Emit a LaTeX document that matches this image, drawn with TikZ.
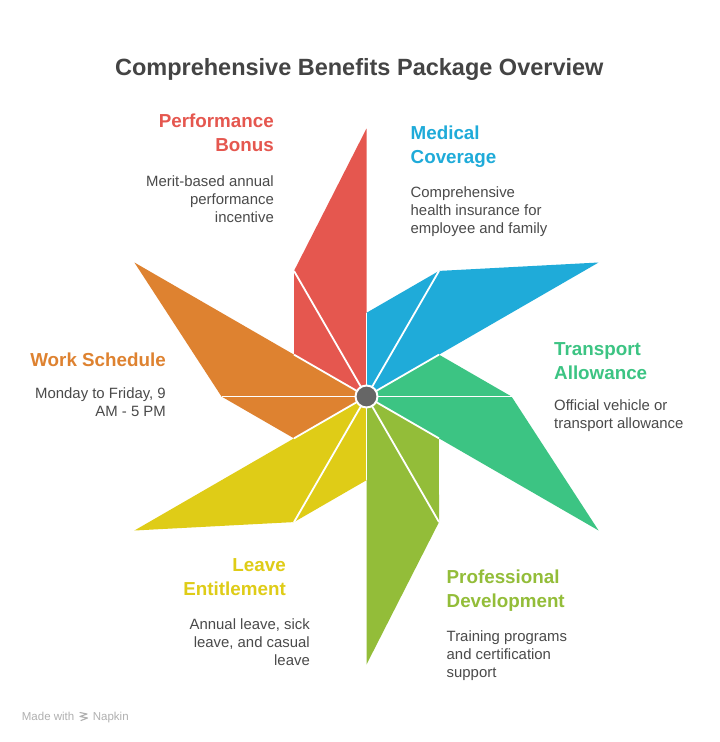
\documentclass[tikz,border=0pt]{standalone}
\usepackage{fontspec}
\setmainfont{Liberation Sans}
\usetikzlibrary{calc}
\definecolor{cred}{HTML}{E5574F}
\definecolor{cblue}{HTML}{1FABD9}
\definecolor{cgreen}{HTML}{3CC483}
\definecolor{clime}{HTML}{93BD39}
\definecolor{cyellow}{HTML}{DFCC17}
\definecolor{corange}{HTML}{DE8230}
\definecolor{chub}{HTML}{666666}
\definecolor{ctitle}{HTML}{444444}
\definecolor{cdesc}{HTML}{4A4A4A}
\definecolor{cmade}{HTML}{B0B0B0}
\newcommand\txtlines[2]{\begin{tabular}[t]{@{}#1@{}}#2\end{tabular}}
\begin{document}
\begin{tikzpicture}[x=1pt,y=-1pt,
  titlestyle/.style={inner sep=0pt, text=ctitle, font=\fontsize{23.5}{28}\selectfont\bfseries},
  head/.style={inner sep=0pt, font=\fontsize{18.8}{24}\selectfont\bfseries},
  desc/.style={inner sep=0pt, text=cdesc, font=\fontsize{14.9}{18}\selectfont},
  divider/.style={white, line width=1.8pt},
  madestyle/.style={inner sep=0pt, text=cmade, font=\fontsize{11.5}{13}\selectfont}]
\useasboundingbox[fill=white] (0,0) rectangle (720,742);
\coordinate (C) at (366.5,396.5);
% petals
\foreach \a/\c [count=\i] in {90/cred,30/cblue,-30/cgreen,-90/clime,-150/cyellow,150/corange}{
  \coordinate (t\i) at ({366.5+268*cos(\a)},{396.5-268*sin(\a)});
  \coordinate (k\i) at ({366.5+145*cos(\a+30)},{396.5-145*sin(\a+30)});
  \coordinate (h\i) at ({366.5+83.7*cos(\a+60)},{396.5-83.7*sin(\a+60)});
  \fill[\c] (C) -- (t\i) -- (k\i) -- (h\i) -- cycle;
}
\foreach \i in {1,...,6}{
  \draw[divider] (C) -- (k\i);
  \draw[divider] (C) -- (h\i);
}
\node[circle, fill=chub, draw=white, line width=2pt, minimum size=22pt, inner sep=0pt] (hub) at (C) {};
% title
\node[titlestyle, anchor=base] (title) at (359.3,75) {Comprehensive Benefits Package Overview};
% Performance Bonus
\node[head, text=cred, anchor=base east] (perfh) at (274,127) {\txtlines{r}{Performance\\Bonus}};
\node[desc, anchor=base east] (perfd) at (274,186) {\txtlines{r}{Merit-based annual\\performance\\incentive}};
% Medical Coverage
\node[head, text=cblue, anchor=base west] (medh) at (410.5,139) {\txtlines{l}{Medical\\Coverage}};
\node[desc, anchor=base west] (medd) at (410.5,197.5) {\txtlines{l}{Comprehensive\\health insurance for\\employee and family}};
% Transport Allowance
\node[head, text=cgreen, anchor=base west] (trah) at (554,355) {\txtlines{l}{Transport\\Allowance}};
\node[desc, anchor=base west] (trad) at (554,410.5) {\txtlines{l}{Official vehicle or\\transport allowance}};
% Professional Development
\node[head, text=clime, anchor=base west] (proh) at (446.5,583) {\txtlines{l}{Professional\\Development}};
\node[desc, anchor=base west] (prod) at (446.5,641.5) {\txtlines{l}{Training programs\\and certification\\support}};
% Leave Entitlement
\node[head, text=cyellow, anchor=base east] (leah) at (286,571) {\txtlines{r}{Leave\\Entitlement}};
\node[desc, anchor=base east] (lead) at (310,629.5) {\txtlines{r}{Annual leave, sick\\leave, and casual\\leave}};
% Work Schedule
\node[head, text=corange, anchor=base east] (worh) at (166,366.7) {Work Schedule};
\node[desc, anchor=base east] (word) at (166,398.5) {\txtlines{r}{Monday to Friday, 9\\AM - 5 PM}};
% Made with Napkin
\node[madestyle, anchor=base west] (made) at (21.7,720) {Made with};
\draw[cmade, line width=1.1pt, line join=round, line cap=round] (80,712.5) -- (87,714) -- (80,716.5) -- (87.5,718) -- (81,720.5);
\node[madestyle, anchor=base west] (napkin) at (92.7,720) {Napkin};
\end{tikzpicture}
\end{document}
